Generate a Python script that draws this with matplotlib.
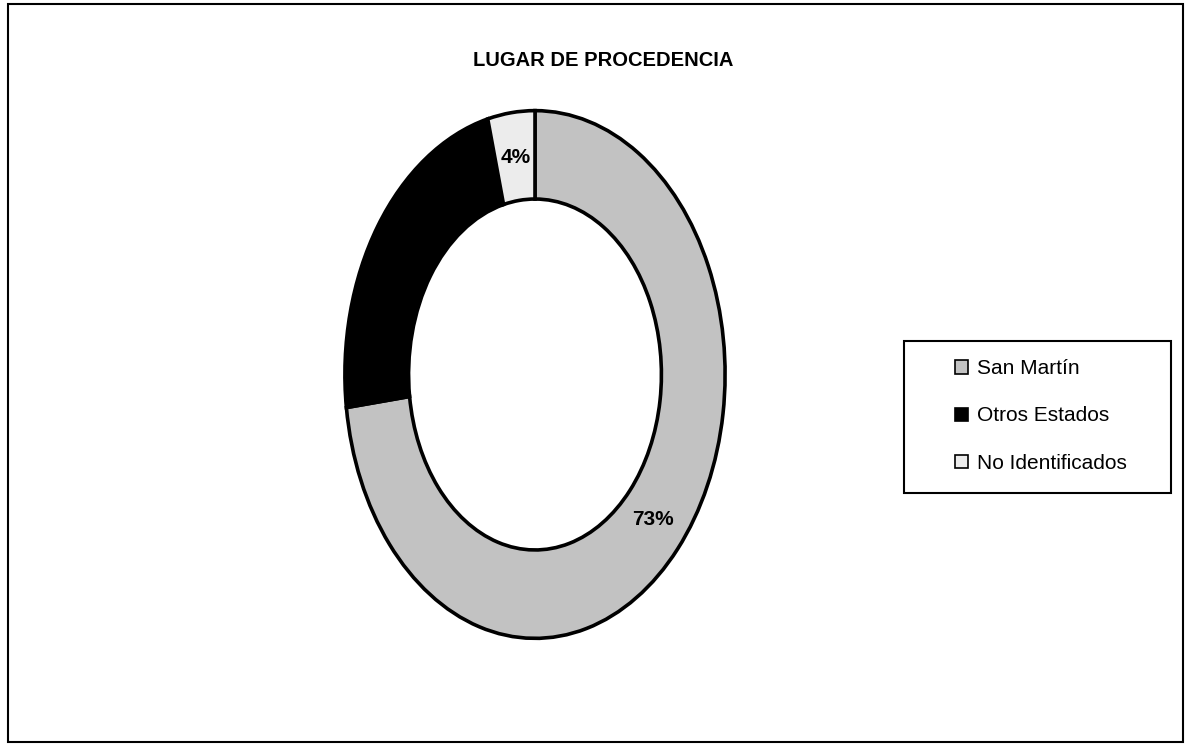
import matplotlib
matplotlib.use("Agg")
import math
import matplotlib.pyplot as plt
from matplotlib.patches import Rectangle

categories = ["San Martín", "Otros Estados", "No Identificados"]
values = [73, 23, 4]
pct_labels = ["73%", "", "4%"]
colors = ["#c2c2c2", "#000000", "#ececec"]
title = "LUGAR DE PROCEDENCIA"

W, H = 1187, 745
fig = plt.figure(figsize=(W / 100, H / 100), dpi=100)
fig.patch.set_facecolor("white")

fam = ["Liberation Sans", "DejaVu Sans"]

# outer chart border
fig.add_artist(Rectangle((8 / W, 3 / H), 1175 / W, 738 / H, transform=fig.transFigure,
                         fill=False, edgecolor="black", linewidth=1.5))

# pie axes (elliptical donut)
ax = fig.add_axes([343 / W, 1 - 641 / H, 384 / W, 533 / H])
wedges, _ = ax.pie(values, colors=colors, startangle=90, counterclock=False,
                   radius=1.0, wedgeprops=dict(width=0.335, edgecolor="black", linewidth=2.6))
ax.set_aspect("auto")
ax.set_xlim(-1.01, 1.01)
ax.set_ylim(-1.01, 1.01)
ax.axis("off")

# percent labels at ring middle
total = sum(values)
start = 90.0
for v, lab in zip(values, pct_labels):
    mid = start - v / total * 360 / 2
    start -= v / total * 360
    if lab:
        r = 0.83
        ax.text(r * math.cos(math.radians(mid)), r * math.sin(math.radians(mid)), lab,
                ha="center", va="center", fontsize=15, fontweight="bold",
                family=fam, color="black")

fig.text(603 / W, 1 - 61 / H, title, ha="center", va="center", fontsize=14.5,
         fontweight="bold", family=fam)

# legend border box
fig.add_artist(Rectangle((904 / W, 1 - 493 / H), 267 / W, 152 / H, transform=fig.transFigure,
                         fill=False, edgecolor="black", linewidth=1.5))
leg = fig.legend(wedges, categories, loc="center left",
                 bbox_to_anchor=(955 / W, 1 - 416 / H), prop=dict(family=fam, size=15),
                 frameon=False, handlelength=0.6, handleheight=0.6, handletextpad=0.45,
                 labelspacing=1.35, borderpad=0, borderaxespad=0)
for h in leg.legend_handles:
    h.set_linewidth(1.2)
    h.set_edgecolor("black")

fig.savefig("out.png", dpi=100, facecolor="white")
